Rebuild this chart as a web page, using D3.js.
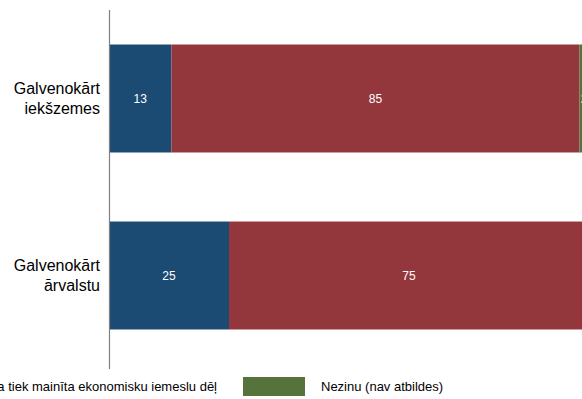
<!DOCTYPE html>
<html><head><meta charset="utf-8">
<script src="https://cdn.jsdelivr.net/npm/d3@7"></script>
<style>body{margin:0;background:#fff;overflow:hidden}svg{display:block;font-family:"Liberation Sans",Arial,sans-serif}</style>
</head><body><svg id="c" width="582" height="399"></svg>
<script>
const categories = [["Galvenokārt", "iekšzemes"], ["Galvenokārt", "ārvalstu"]];
const seriesNames = ["Cena tiek mainīta regulāri", "Cena tiek mainīta ekonomisku iemeslu dēļ", "Nezinu (nav atbildes)"];
const seriesColors = ["#1b4a72", "#93373c", "#55733a"];
const valuesBlue = [13, 25];
const valuesRed = [85, 75];
const valuesGreen = [2, 0];

const svg = d3.select("#c");
const seriesVals = [valuesBlue, valuesRed, valuesGreen];
const rows = categories.map((c, i) => {
  const o = {key: i};
  seriesVals.forEach((s, j) => o["s" + j] = s[i]);
  return o;
});
const stack = d3.stack().keys(["s0", "s1", "s2"])(rows);

const x = d3.scaleLinear().domain([0, 100]).range([109, 589]);
const y = d3.scaleBand().domain(d3.range(categories.length)).range([10, 364]).paddingInner(0.39).paddingOuter(0.195);

stack.forEach((layer, j) => {
  const g = svg.append("g");
  g.selectAll("rect").data(layer).join("rect")
    .attr("x", d => x(d[0])).attr("width", d => x(d[1]) - x(d[0]))
    .attr("y", (d, i) => y(i)).attr("height", y.bandwidth())
    .attr("fill", seriesColors[j]);
  g.selectAll("text").data(layer.filter(d => d[1] - d[0] > 0)).join("text")
    .attr("x", d => (x(d[0]) + x(d[1])) / 2)
    .attr("y", d => y(d.data.key) + y.bandwidth() / 2 + 4)
    .attr("text-anchor", "middle").attr("fill", "#fff").attr("font-size", 12)
    .text(d => d[1] - d[0]);
});

// axis line
svg.append("line").attr("x1", 109.5).attr("x2", 109.5).attr("y1", 10).attr("y2", 369)
  .attr("stroke", "#808080").attr("stroke-width", 1.2);

// category labels
categories.forEach((c, i) => {
  const cy = y(i) + y.bandwidth() / 2;
  const t = svg.append("text").attr("text-anchor", "end").attr("font-size", 16).attr("fill", "#000");
  c.forEach((line, k) => {
    t.append("tspan").attr("x", 100).attr("y", cy - 5 + k * 20).text(line);
  });
});

// legend
const lg = svg.append("g");
let cx = 0, greenX = 0;
seriesNames.forEach((n, j) => {
  lg.append("rect").attr("x", cx).attr("y", 377).attr("width", 62).attr("height", 19).attr("fill", seriesColors[j]);
  if (j === 2) greenX = cx;
  const t = lg.append("text").attr("x", cx + 78).attr("y", 391).attr("font-size", 13).attr("fill", "#000").text(n);
  cx += 78 + t.node().getComputedTextLength() + 26;
});
lg.attr("transform", `translate(${243 - greenX},0)`);
</script></body></html>
